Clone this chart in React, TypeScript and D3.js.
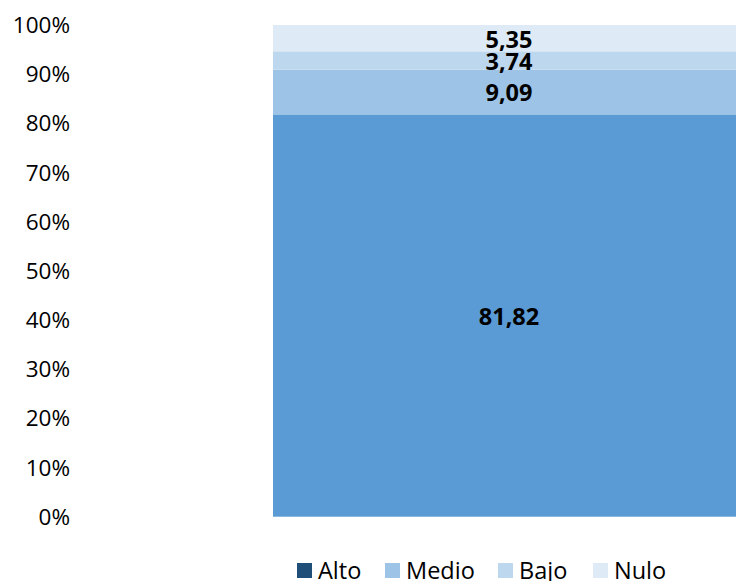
import { useEffect, useRef } from "react"
import * as d3 from "d3"

const categories = ["Alto", "Medio", "Bajo", "Nulo"]
// stacked segments of the single bar, bottom to top
const segLabels = ["81,82", "9,09", "3,74", "5,35"]
const segValues = [81.82, 9.09, 3.74, 5.35]
const segColors = ["#5B9BD5", "#9DC3E6", "#BDD7EE", "#DEEBF7"]
const legendColors = ["#1F4E79", "#9DC3E6", "#BDD7EE", "#DEEBF7"]
const yTicks = [0, 10, 20, 30, 40, 50, 60, 70, 80, 90, 100]

const W = 736, H = 581
const FONT = "'Open Sans', 'DejaVu Sans', sans-serif"

export default function App() {
  const ref = useRef<SVGSVGElement>(null)
  useEffect(() => {
    if (!ref.current) return
    const svg = d3.select(ref.current)
    svg.selectAll("*").remove()

    const y = d3.scaleLinear().domain([0, 100]).range([516.7, 25])
    const x = d3.scaleBand().domain(["bar"]).range([273, 747]).padding(0)

    // y axis labels, no lines
    svg.append("g").selectAll("text").data(yTicks).join("text")
      .attr("x", 70).attr("y", d => y(d)).attr("dy", "0.36em")
      .attr("text-anchor", "end").style("font-family", FONT).style("font-size", "22.5px").style("fill", "#000")
      .text(d => `${d}%`)

    let acc = 0
    const stacked = segValues.map((v, i) => { const s = { y0: acc, y1: acc + v, i }; acc += v; return s })

    const g = svg.append("g")
    g.selectAll("rect").data(stacked).join("rect")
      .attr("x", x("bar")!).attr("width", x.bandwidth())
      .attr("y", d => y(d.y1)).attr("height", d => y(d.y0) - y(d.y1))
      .attr("fill", d => segColors[d.i])

    g.selectAll("text").data(stacked).join("text")
      .attr("x", x("bar")! + x.bandwidth() / 2 - 1).attr("y", d => y((d.y0 + d.y1) / 2) + (d.i === 3 ? 2 : 1))
      .attr("dy", "0.35em").attr("text-anchor", "middle")
      .style("font-family", FONT).style("font-size", "23.5px").style("font-weight", "bold").style("fill", "#000")
      .text(d => segLabels[d.i])

    const lx = [297, 385, 498, 593]
    const lg = svg.append("g")
    categories.forEach((c, i) => {
      lg.append("rect").attr("x", lx[i]).attr("y", 563).attr("width", 15).attr("height", 15).attr("fill", legendColors[i])
      lg.append("text").attr("x", lx[i] + 21).attr("y", 579)
        .style("font-family", FONT).style("font-size", "23.5px").style("fill", "#000").text(c)
    })
  }, [])
  return (
    <svg ref={ref} width={W} height={H}
      style={{ position: "absolute", left: 0, top: 0, display: "block", background: "#fff" }} />
  )
}
